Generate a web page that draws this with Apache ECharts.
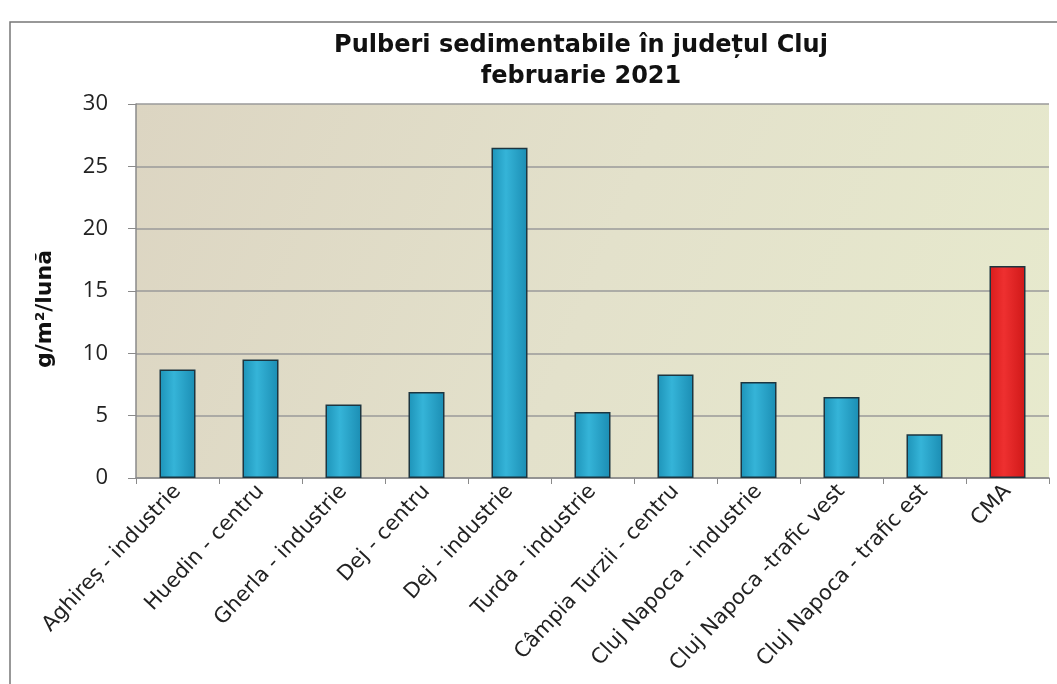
<!DOCTYPE html>
<html>
<head>
	<meta charset="utf-8" />
	<title>Pulberi sedimentabile</title>
	<script src="https://cdn.jsdelivr.net/npm/echarts@6/dist/echarts.min.js"></script>
	<style>
		body { margin: 0; background: #fff; }
	</style>
</head>
<body>
	<div id="main" style="width: 1057px;height: 684px;"></div>
	<script type="text/javascript">

		// statii de masurare
		var categorii = ['Aghireș - industrie', 'Huedin - centru', 'Gherla - industrie', 'Dej - centru',
			'Dej - industrie', 'Turda - industrie', 'Câmpia Turzii - centru', 'Cluj Napoca - industrie',
			'Cluj Napoca -trafic vest', 'Cluj Napoca - trafic est', 'CMA'];
		// g/m2/luna, februarie 2021
		var valori = [8.7, 9.5, 5.9, 6.9, 26.5, 5.3, 8.3, 7.7, 6.5, 3.5, 17];
		var yTicks = [0, 5, 10, 15, 20, 25, 30];

		var myChart = echarts.init(document.getElementById('main'));

		var albastru = new echarts.graphic.LinearGradient(0, 0, 1, 0, [
			{offset: 0, color: '#1d93b8'},
			{offset: 0.4, color: '#35b4d8'},
			{offset: 1, color: '#1b8db3'}
		]);
		var rosu = new echarts.graphic.LinearGradient(0, 0, 1, 0, [
			{offset: 0, color: '#d91c1c'},
			{offset: 0.4, color: '#ee3030'},
			{offset: 1, color: '#cf1818'}
		]);

		var option = {
			backgroundColor: '#fff',
			title: {
				text: 'Pulberi sedimentabile în județul Cluj\nfebruarie 2021',
				left: 576,
				top: 25,
				textAlign: 'center',
				textStyle: {
					fontFamily: 'DejaVu Sans',
					fontWeight: 'bold',
					fontSize: 24,
					lineHeight: 31,
					color: '#111'
				}
			},
			graphic: [{
				type: 'rect',
				shape: {x: 10, y: 22, width: 1060, height: 700},
				style: {fill: 'none', stroke: '#777', lineWidth: 1.5},
				silent: true
			}],
			grid: {
				left: 136,
				right: 8,
				top: 104,
				bottom: 206,
				show: true,
				borderWidth: 0,
				backgroundColor: new echarts.graphic.LinearGradient(0, 0, 1, 1, [
					{offset: 0, color: '#dcd5c2'},
					{offset: 0.5, color: '#e3e1cb'},
					{offset: 1, color: '#e7eacd'}
				])
			},
			xAxis: {
				type: 'category',
				data: categorii,
				axisLine: {lineStyle: {color: '#8a8a8a', width: 1.5}},
				axisTick: {show: true, length: 6, lineStyle: {color: '#8a8a8a'}},
				axisLabel: {
					rotate: 47,
					interval: 0,
					margin: 10,
					fontFamily: 'DejaVu Sans',
					fontSize: 21,
					color: '#222'
				}
			},
			yAxis: {
				type: 'value',
				min: yTicks[0],
				max: yTicks[yTicks.length - 1],
				interval: 5,
				name: 'g/m²/lună',
				nameLocation: 'middle',
				nameGap: 80,
				nameTextStyle: {
					fontFamily: 'DejaVu Sans',
					fontWeight: 'bold',
					fontSize: 22,
					color: '#111',
					padding: [0, 36, 0, 0]
				},
				axisLine: {show: true, lineStyle: {color: '#8a8a8a', width: 1.5}},
				axisTick: {show: true, length: 8, lineStyle: {color: '#8a8a8a'}},
				axisLabel: {
					margin: 28,
					fontFamily: 'Open Sans',
					fontSize: 22,
					color: '#222'
				},
				splitLine: {lineStyle: {color: '#9a9a9a', width: 1.5}}
			},
			series: [{
				type: 'bar',
				barWidth: 36,
				data: valori.map(function (v, i) {
					return {
						value: v,
						itemStyle: {color: categorii[i] === 'CMA' ? rosu : albastru}
					};
				}),
				itemStyle: {
					borderColor: '#1c3540',
					borderWidth: 1.5
				}
			}]
		};

		myChart.setOption(option);

	</script>
</body>
</html>
